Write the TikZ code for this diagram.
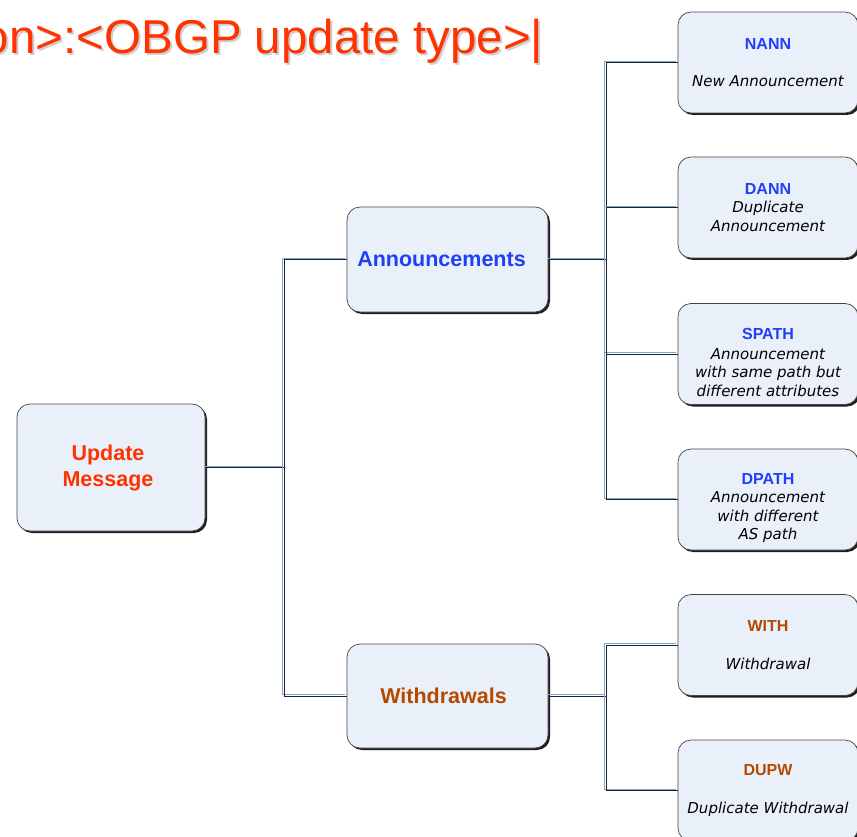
\documentclass[tikz,border=0pt]{standalone}
\usepackage{fontspec}
\setmainfont{Liberation Sans}
\newfontfamily\descfont{DejaVu Sans}
\definecolor{titlered}{HTML}{FF3300}
\definecolor{headblue}{HTML}{2040F8}
\definecolor{headbrown}{HTML}{B34A00}
\definecolor{boxfill}{HTML}{EAF0FA}
\definecolor{boxedge}{HTML}{454545}
\definecolor{boxshadow}{HTML}{1E1E1E}
\definecolor{linkblue}{HTML}{7FA6DC}
\definecolor{linkdark}{HTML}{222222}
\definecolor{titleshade}{HTML}{CFCFCF}
\tikzset{
  box/.style={draw=boxedge, line width=0.7pt, fill=boxfill, rounded corners=13pt,
    inner sep=0pt, align=center,
    preaction={fill=boxshadow, transform canvas={shift={(2pt,-2pt)}}}},
  mainbox/.style={box, font=\bfseries\fontsize{21.5}{26}\selectfont},
  leafbox/.style={box, minimum width=180pt, minimum height=101pt,
    font=\descfont\itshape\fontsize{15}{18.5}\selectfont},
  headingtext/.style={anchor=base east, inner sep=0pt, font=\fontsize{47.5}{52}\selectfont},
  link/.style={draw=linkdark, line width=1pt,
    preaction={draw=linkblue, line width=1pt, transform canvas={shift={(-1.4pt,1.4pt)}}}}
}
% bold heading line of a leaf box; the optional rule lowers the whole text block
\newcommand\leafhead[3][0pt]{{\rmfamily\upshape\bfseries\fontsize{16}{18.5}\selectfont\color{#2}\rule{0pt}{#1}#3}}
\begin{document}
\begin{tikzpicture}[x=1pt, y=-1pt]
  \useasboundingbox (0,0) rectangle (857,837);
  \clip (0,0) rectangle (857,837);

  % heading with its soft shadow
  \node[headingtext, text=titleshade] (headshadow) at (545.5,56)
    {on>:<OBGP update type>|};
  \node[headingtext, text=titlered] (heading) at (543.5,54)
    {on>:<OBGP update type>|};

  % tree boxes
  \node[mainbox, minimum width=188pt, minimum height=127pt, text=titlered]
    (um) at (111,467.5) {Update\kern6pt\\Message\kern6pt};
  \node[mainbox, minimum width=201pt, minimum height=105pt, text=headblue]
    (ann) at (447.5,259.5) {Announcements\kern12pt};
  \node[mainbox, minimum width=201pt, minimum height=104pt, text=headbrown]
    (wd) at (447.5,696) {Withdrawals\kern8pt};

  \node[leafbox] (nann) at (768,62.5)
    {\leafhead{headblue}{NANN}\\[18.5pt]New Announcement};
  \node[leafbox] (dann) at (768,207.5)
    {\leafhead{headblue}{DANN}\\Duplicate\\Announcement};
  \node[leafbox] (spath) at (768,354)
    {\leafhead[28pt]{headblue}{SPATH}\\[1.5pt]Announcement\\with same path but\\different attributes};
  \node[leafbox] (dpath) at (768,499.5)
    {\leafhead[28pt]{headblue}{DPATH}\\Announcement\\with different\\AS path};
  \node[leafbox] (with) at (768,645)
    {\leafhead{headbrown}{WITH}\\[19.5pt]Withdrawal};
  \node[leafbox] (dupw) at (768,790.5)
    {\leafhead{headbrown}{DUPW}\\[20pt]Duplicate Withdrawal};

  % junction points of the connectors
  \coordinate (j1) at (284,467.5);
  \coordinate (j2) at (606,259.5);
  \coordinate (j3) at (606,696);

  % connectors
  \draw[link] (um.east) -- (j1);
  \draw[link] (j1) |- (ann.west);
  \draw[link] (j1) |- (wd.west);
  \draw[link] (ann.east) -- (j2);
  \foreach \leaf in {nann,dann,spath,dpath} \draw[link] (j2) |- (\leaf.west);
  \draw[link] (wd.east) -- (j3);
  \foreach \leaf in {with,dupw} \draw[link] (j3) |- (\leaf.west);
\end{tikzpicture}
\end{document}
